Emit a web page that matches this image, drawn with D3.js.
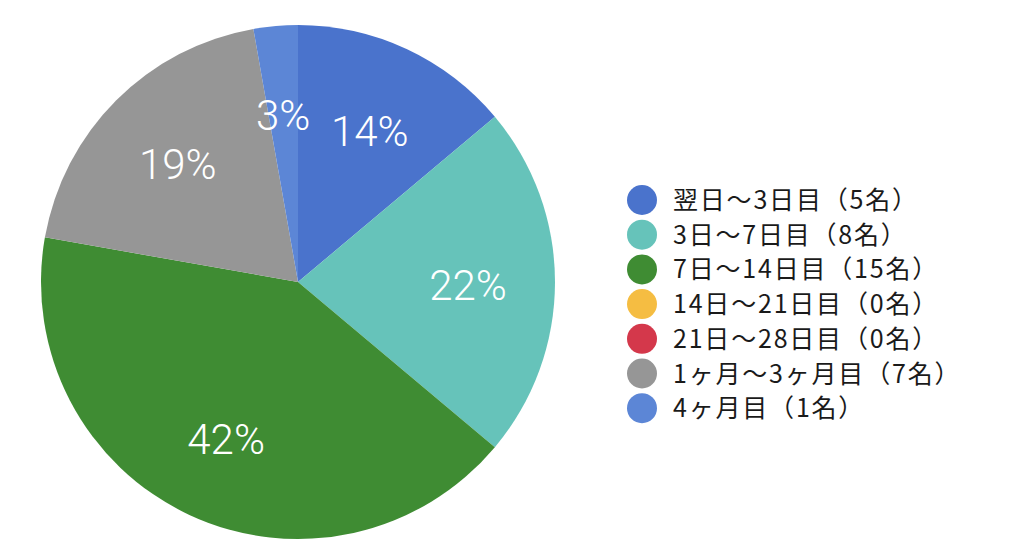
<!DOCTYPE html>
<html>
<head>
<meta charset="utf-8">
<script src="https://cdn.jsdelivr.net/npm/d3@7"></script>
<style>
  html, body { margin: 0; padding: 0; background: #fff; }
  svg { display: block; }
  .slice-label { font-family: Roboto, "Noto Sans", sans-serif; font-weight: 300; font-size: 42px; fill: #fff; }
  .legend-label { font-family: "Noto Sans CJK JP", "Noto Sans", sans-serif; font-size: 25px; letter-spacing: 1.8px; fill: #1a1a1a; }
</style>
</head>
<body>
<div id="chart"></div>
<script>
// data
const categories = ["翌日～3日目（5名）", "3日～7日目（8名）", "7日～14日目（15名）", "14日～21日目（0名）", "21日～28日目（0名）", "1ヶ月～3ヶ月目（7名）", "4ヶ月目（1名）"];
const counts = [5, 8, 15, 0, 0, 7, 1];
const colors = ["#4a73cc", "#66c3ba", "#3f8c33", "#f5bd42", "#d4384b", "#969696", "#5c86d6"];

const width = 1024, height = 555;
const cx = 298, cy = 282, radius = 257;

const svg = d3.select("#chart").append("svg")
  .attr("width", width)
  .attr("height", height);

const pie = d3.pie().sort(null).value(d => d.value);
const arcs = pie(counts.map((v, i) => ({ value: v, i })));
const total = d3.sum(counts);

const arc = d3.arc().innerRadius(0).outerRadius(radius);
const labelArc = d3.arc().innerRadius(170).outerRadius(170);

const g = svg.append("g").attr("transform", `translate(${cx},${cy})`);

g.selectAll("path")
  .data(arcs)
  .join("path")
  .attr("d", arc)
  .attr("fill", d => colors[d.data.i]);

// percent labels
g.selectAll("text")
  .data(arcs.filter(d => d.value > 0))
  .join("text")
  .attr("class", "slice-label")
  .attr("transform", d => `translate(${labelArc.centroid(d)})`)
  .attr("text-anchor", "middle")
  .attr("dy", "0.42em")
  .text(d => Math.round(d.value / total * 100) + "%");

// legend
const legend = svg.append("g").attr("transform", "translate(642,200)");
const row = 34.7;

const items = legend.selectAll("g")
  .data(categories)
  .join("g")
  .attr("transform", (d, i) => `translate(0,${i * row})`);

items.append("circle")
  .attr("r", 15)
  .attr("fill", (d, i) => colors[i]);

items.append("text")
  .attr("class", "legend-label")
  .attr("x", 31)
  .attr("dy", "0.36em")
  .text(d => d);
</script>
</body>
</html>
